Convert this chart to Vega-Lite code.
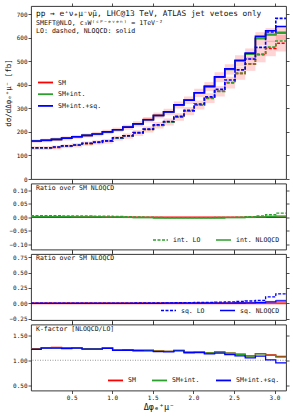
{
"$schema": "https://vega.github.io/schema/vega-lite/v6.json",
"padding": {"left": 3, "top": 2, "right": 1, "bottom": 2},
"bounds": "flush",
"spacing": 4.5,
"config": {
  "font": "DejaVu Sans Mono",
  "view": {"stroke": "#222", "strokeWidth": 0.9},
  "axis": {"grid": false, "domain": false, "tickColor": "#222", "tickSize": 3, "tickWidth": 0.8, "labelFont": "DejaVu Sans Mono", "labelFontSize": 6, "labelColor": "#111", "labelPadding": 1, "titleFont": "DejaVu Sans Mono", "titleFontWeight": "normal", "titleColor": "#111"},
  "legend": {"labelFont": "DejaVu Sans Mono", "labelFontSize": 6.5, "labelColor": "#111", "symbolType": "M-3,0H3", "symbolSize": 25, "symbolStrokeWidth": 1.8, "padding": 0},
  "title": {"font": "DejaVu Sans Mono", "fontWeight": "normal", "color": "#111", "anchor": "start", "frame": "group", "subtitleFont": "DejaVu Sans Mono", "subtitleColor": "#111"}
},
"datasets": {
  "main": [
    {"s":"SM","b":0,"x0":0,"x1":0.1257,"lo":131,"nlo":161,"k":1.229},
    {"s":"SM","b":1,"x0":0.1257,"x1":0.2513,"lo":131,"nlo":164,"k":1.252},
    {"s":"SM","b":2,"x0":0.2513,"x1":0.377,"lo":134,"nlo":168,"k":1.254},
    {"s":"SM","b":3,"x0":0.377,"x1":0.5027,"lo":139,"nlo":173,"k":1.245},
    {"s":"SM","b":4,"x0":0.5027,"x1":0.6283,"lo":143,"nlo":179,"k":1.252},
    {"s":"SM","b":5,"x0":0.6283,"x1":0.754,"lo":150,"nlo":185,"k":1.233},
    {"s":"SM","b":6,"x0":0.754,"x1":0.8796,"lo":155,"nlo":191,"k":1.232},
    {"s":"SM","b":7,"x0":0.8796,"x1":1.0053,"lo":160,"nlo":200,"k":1.25},
    {"s":"SM","b":8,"x0":1.0053,"x1":1.131,"lo":173,"nlo":209,"k":1.208},
    {"s":"SM","b":9,"x0":1.131,"x1":1.2566,"lo":182,"nlo":220,"k":1.209},
    {"s":"SM","b":10,"x0":1.2566,"x1":1.3823,"lo":195,"nlo":234,"k":1.2},
    {"s":"SM","b":11,"x0":1.3823,"x1":1.508,"lo":210,"nlo":252,"k":1.2},
    {"s":"SM","b":12,"x0":1.508,"x1":1.6336,"lo":228,"nlo":270,"k":1.184},
    {"s":"SM","b":13,"x0":1.6336,"x1":1.7593,"lo":242,"nlo":285,"k":1.178},
    {"s":"SM","b":14,"x0":1.7593,"x1":1.885,"lo":263,"nlo":315,"k":1.198},
    {"s":"SM","b":15,"x0":1.885,"x1":2.0106,"lo":288,"nlo":335,"k":1.163},
    {"s":"SM","b":16,"x0":2.0106,"x1":2.1363,"lo":314,"nlo":366,"k":1.166},
    {"s":"SM","b":17,"x0":2.1363,"x1":2.2619,"lo":343,"nlo":393,"k":1.146},
    {"s":"SM","b":18,"x0":2.2619,"x1":2.3876,"lo":372,"nlo":433,"k":1.164},
    {"s":"SM","b":19,"x0":2.3876,"x1":2.5133,"lo":409,"nlo":466,"k":1.139},
    {"s":"SM","b":20,"x0":2.5133,"x1":2.6389,"lo":448,"nlo":502,"k":1.121},
    {"s":"SM","b":21,"x0":2.6389,"x1":2.7646,"lo":488,"nlo":530,"k":1.086},
    {"s":"SM","b":22,"x0":2.7646,"x1":2.8903,"lo":527,"nlo":596,"k":1.131},
    {"s":"SM","b":23,"x0":2.8903,"x1":3.0159,"lo":554,"nlo":612,"k":1.105},
    {"s":"SM","b":24,"x0":3.0159,"x1":3.1416,"lo":576,"nlo":620,"k":1.076},
    {"s":"SM+int.","b":0,"x0":0,"x1":0.1257,"lo":132.0,"nlo":161.3,"k":1.222},
    {"s":"SM+int.","b":1,"x0":0.1257,"x1":0.2513,"lo":132.0,"nlo":164.3,"k":1.245},
    {"s":"SM+int.","b":2,"x0":0.2513,"x1":0.377,"lo":135.0,"nlo":168.3,"k":1.247},
    {"s":"SM+int.","b":3,"x0":0.377,"x1":0.5027,"lo":139.9,"nlo":173.3,"k":1.239},
    {"s":"SM+int.","b":4,"x0":0.5027,"x1":0.6283,"lo":143.9,"nlo":179.2,"k":1.245},
    {"s":"SM+int.","b":5,"x0":0.6283,"x1":0.754,"lo":150.9,"nlo":185.2,"k":1.227},
    {"s":"SM+int.","b":6,"x0":0.754,"x1":0.8796,"lo":155.8,"nlo":191.2,"k":1.227},
    {"s":"SM+int.","b":7,"x0":0.8796,"x1":1.0053,"lo":160.8,"nlo":200.0,"k":1.244},
    {"s":"SM+int.","b":8,"x0":1.0053,"x1":1.131,"lo":173.6,"nlo":209.0,"k":1.204},
    {"s":"SM+int.","b":9,"x0":1.131,"x1":1.2566,"lo":182.4,"nlo":219.8,"k":1.205},
    {"s":"SM+int.","b":10,"x0":1.2566,"x1":1.3823,"lo":195.2,"nlo":233.5,"k":1.196},
    {"s":"SM+int.","b":11,"x0":1.3823,"x1":1.508,"lo":210.0,"nlo":251.5,"k":1.198},
    {"s":"SM+int.","b":12,"x0":1.508,"x1":1.6336,"lo":227.7,"nlo":269.2,"k":1.182},
    {"s":"SM+int.","b":13,"x0":1.6336,"x1":1.7593,"lo":241.4,"nlo":284.1,"k":1.177},
    {"s":"SM+int.","b":14,"x0":1.7593,"x1":1.885,"lo":262.4,"nlo":314.1,"k":1.197},
    {"s":"SM+int.","b":15,"x0":1.885,"x1":2.0106,"lo":287.3,"nlo":334.0,"k":1.163},
    {"s":"SM+int.","b":16,"x0":2.0106,"x1":2.1363,"lo":313.3,"nlo":364.9,"k":1.165},
    {"s":"SM+int.","b":17,"x0":2.1363,"x1":2.2619,"lo":342.2,"nlo":391.8,"k":1.145},
    {"s":"SM+int.","b":18,"x0":2.2619,"x1":2.3876,"lo":371.6,"nlo":431.7,"k":1.162},
    {"s":"SM+int.","b":19,"x0":2.3876,"x1":2.5133,"lo":408.5,"nlo":465.1,"k":1.139},
    {"s":"SM+int.","b":20,"x0":2.5133,"x1":2.6389,"lo":448.0,"nlo":501.0,"k":1.118},
    {"s":"SM+int.","b":21,"x0":2.6389,"x1":2.7646,"lo":489.1,"nlo":529.5,"k":1.083},
    {"s":"SM+int.","b":22,"x0":2.7646,"x1":2.8903,"lo":530.0,"nlo":596.6,"k":1.126},
    {"s":"SM+int.","b":23,"x0":2.8903,"x1":3.0159,"lo":559.5,"nlo":613.8,"k":1.097},
    {"s":"SM+int.","b":24,"x0":3.0159,"x1":3.1416,"lo":585.3,"nlo":622.5,"k":1.064},
    {"s":"SM+int.+sq.","b":0,"x0":0,"x1":0.1257,"lo":132.5,"nlo":161.3,"k":1.217},
    {"s":"SM+int.+sq.","b":1,"x0":0.1257,"x1":0.2513,"lo":132.5,"nlo":164.3,"k":1.240},
    {"s":"SM+int.+sq.","b":2,"x0":0.2513,"x1":0.377,"lo":135.5,"nlo":168.3,"k":1.242},
    {"s":"SM+int.+sq.","b":3,"x0":0.377,"x1":0.5027,"lo":140.4,"nlo":173.3,"k":1.234},
    {"s":"SM+int.+sq.","b":4,"x0":0.5027,"x1":0.6283,"lo":144.4,"nlo":179.2,"k":1.241},
    {"s":"SM+int.+sq.","b":5,"x0":0.6283,"x1":0.754,"lo":151.7,"nlo":185.2,"k":1.221},
    {"s":"SM+int.+sq.","b":6,"x0":0.754,"x1":0.8796,"lo":156.5,"nlo":191.2,"k":1.222},
    {"s":"SM+int.+sq.","b":7,"x0":0.8796,"x1":1.0053,"lo":161.6,"nlo":200.0,"k":1.238},
    {"s":"SM+int.+sq.","b":8,"x0":1.0053,"x1":1.131,"lo":174.7,"nlo":209.0,"k":1.196},
    {"s":"SM+int.+sq.","b":9,"x0":1.131,"x1":1.2566,"lo":183.5,"nlo":220.0,"k":1.199},
    {"s":"SM+int.+sq.","b":10,"x0":1.2566,"x1":1.3823,"lo":196.6,"nlo":233.8,"k":1.189},
    {"s":"SM+int.+sq.","b":11,"x0":1.3823,"x1":1.508,"lo":211.8,"nlo":251.7,"k":1.188},
    {"s":"SM+int.+sq.","b":12,"x0":1.508,"x1":1.6336,"lo":229.9,"nlo":269.5,"k":1.172},
    {"s":"SM+int.+sq.","b":13,"x0":1.6336,"x1":1.7593,"lo":244.0,"nlo":284.7,"k":1.167},
    {"s":"SM+int.+sq.","b":14,"x0":1.7593,"x1":1.885,"lo":265.5,"nlo":314.7,"k":1.185},
    {"s":"SM+int.+sq.","b":15,"x0":1.885,"x1":2.0106,"lo":291.3,"nlo":334.7,"k":1.149},
    {"s":"SM+int.+sq.","b":16,"x0":2.0106,"x1":2.1363,"lo":318.4,"nlo":366.0,"k":1.150},
    {"s":"SM+int.+sq.","b":17,"x0":2.1363,"x1":2.2619,"lo":348.5,"nlo":393.0,"k":1.128},
    {"s":"SM+int.+sq.","b":18,"x0":2.2619,"x1":2.3876,"lo":380.3,"nlo":433.4,"k":1.140},
    {"s":"SM+int.+sq.","b":19,"x0":2.3876,"x1":2.5133,"lo":420.2,"nlo":467.4,"k":1.112},
    {"s":"SM+int.+sq.","b":20,"x0":2.5133,"x1":2.6389,"lo":463.1,"nlo":504.0,"k":1.088},
    {"s":"SM+int.+sq.","b":21,"x0":2.6389,"x1":2.7646,"lo":509.2,"nlo":534.2,"k":1.049},
    {"s":"SM+int.+sq.","b":22,"x0":2.7646,"x1":2.8903,"lo":558.6,"nlo":605.0,"k":1.083},
    {"s":"SM+int.+sq.","b":23,"x0":2.8903,"x1":3.0159,"lo":623.8,"nlo":629.1,"k":1.008},
    {"s":"SM+int.+sq.","b":24,"x0":3.0159,"x1":3.1416,"lo":681.4,"nlo":647.3,"k":0.950}
  ],
  "band": [
    {"b":0,"x0":0,"x1":0.1257,"nLo":153,"nHi":168,"lLo":123,"lHi":139},
    {"b":1,"x0":0.1257,"x1":0.2513,"nLo":156,"nHi":171,"lLo":123,"lHi":139},
    {"b":2,"x0":0.2513,"x1":0.377,"nLo":160,"nHi":176,"lLo":126,"lHi":142},
    {"b":3,"x0":0.377,"x1":0.5027,"nLo":164,"nHi":181,"lLo":131,"lHi":147},
    {"b":4,"x0":0.5027,"x1":0.6283,"nLo":170,"nHi":187,"lLo":134,"lHi":152},
    {"b":5,"x0":0.6283,"x1":0.754,"nLo":176,"nHi":193,"lLo":141,"lHi":159},
    {"b":6,"x0":0.754,"x1":0.8796,"nLo":181,"nHi":200,"lLo":146,"lHi":164},
    {"b":7,"x0":0.8796,"x1":1.0053,"nLo":190,"nHi":209,"lLo":150,"lHi":170},
    {"b":8,"x0":1.0053,"x1":1.131,"nLo":199,"nHi":218,"lLo":163,"lHi":183},
    {"b":9,"x0":1.131,"x1":1.2566,"nLo":209,"nHi":230,"lLo":171,"lHi":193},
    {"b":10,"x0":1.2566,"x1":1.3823,"nLo":222,"nHi":245,"lLo":183,"lHi":207},
    {"b":11,"x0":1.3823,"x1":1.508,"nLo":239,"nHi":263,"lLo":197,"lHi":223},
    {"b":12,"x0":1.508,"x1":1.6336,"nLo":257,"nHi":282,"lLo":214,"lHi":242},
    {"b":13,"x0":1.6336,"x1":1.7593,"nLo":271,"nHi":298,"lLo":227,"lHi":257},
    {"b":14,"x0":1.7593,"x1":1.885,"nLo":299,"nHi":329,"lLo":247,"lHi":279},
    {"b":15,"x0":1.885,"x1":2.0106,"nLo":318,"nHi":350,"lLo":271,"lHi":305},
    {"b":16,"x0":2.0106,"x1":2.1363,"nLo":348,"nHi":383,"lLo":295,"lHi":333},
    {"b":17,"x0":2.1363,"x1":2.2619,"nLo":373,"nHi":411,"lLo":322,"lHi":364},
    {"b":18,"x0":2.2619,"x1":2.3876,"nLo":411,"nHi":453,"lLo":350,"lHi":394},
    {"b":19,"x0":2.3876,"x1":2.5133,"nLo":443,"nHi":487,"lLo":384,"lHi":434},
    {"b":20,"x0":2.5133,"x1":2.6389,"nLo":477,"nHi":525,"lLo":421,"lHi":475},
    {"b":21,"x0":2.6389,"x1":2.7646,"nLo":504,"nHi":554,"lLo":459,"lHi":517},
    {"b":22,"x0":2.7646,"x1":2.8903,"nLo":566,"nHi":623,"lLo":495,"lHi":559},
    {"b":23,"x0":2.8903,"x1":3.0159,"nLo":581,"nHi":640,"lLo":521,"lHi":587},
    {"b":24,"x0":3.0159,"x1":3.1416,"nLo":589,"nHi":648,"lLo":541,"lHi":611}
  ],
  "ratio": [
    {"q":"int. LO","b":0,"x0":0,"x1":0.1257,"v":0.006},
    {"q":"int. LO","b":1,"x0":0.1257,"x1":0.2513,"v":0.006},
    {"q":"int. LO","b":2,"x0":0.2513,"x1":0.377,"v":0.006},
    {"q":"int. LO","b":3,"x0":0.377,"x1":0.5027,"v":0.005},
    {"q":"int. LO","b":4,"x0":0.5027,"x1":0.6283,"v":0.005},
    {"q":"int. LO","b":5,"x0":0.6283,"x1":0.754,"v":0.005},
    {"q":"int. LO","b":6,"x0":0.754,"x1":0.8796,"v":0.004},
    {"q":"int. LO","b":7,"x0":0.8796,"x1":1.0053,"v":0.004},
    {"q":"int. LO","b":8,"x0":1.0053,"x1":1.131,"v":0.003},
    {"q":"int. LO","b":9,"x0":1.131,"x1":1.2566,"v":0.002},
    {"q":"int. LO","b":10,"x0":1.2566,"x1":1.3823,"v":0.001},
    {"q":"int. LO","b":11,"x0":1.3823,"x1":1.508,"v":0.000},
    {"q":"int. LO","b":12,"x0":1.508,"x1":1.6336,"v":-0.001},
    {"q":"int. LO","b":13,"x0":1.6336,"x1":1.7593,"v":-0.002},
    {"q":"int. LO","b":14,"x0":1.7593,"x1":1.885,"v":-0.002},
    {"q":"int. LO","b":15,"x0":1.885,"x1":2.0106,"v":-0.002},
    {"q":"int. LO","b":16,"x0":2.0106,"x1":2.1363,"v":-0.002},
    {"q":"int. LO","b":17,"x0":2.1363,"x1":2.2619,"v":-0.002},
    {"q":"int. LO","b":18,"x0":2.2619,"x1":2.3876,"v":-0.001},
    {"q":"int. LO","b":19,"x0":2.3876,"x1":2.5133,"v":-0.001},
    {"q":"int. LO","b":20,"x0":2.5133,"x1":2.6389,"v":0.000},
    {"q":"int. LO","b":21,"x0":2.6389,"x1":2.7646,"v":0.002},
    {"q":"int. LO","b":22,"x0":2.7646,"x1":2.8903,"v":0.005},
    {"q":"int. LO","b":23,"x0":2.8903,"x1":3.0159,"v":0.009},
    {"q":"int. LO","b":24,"x0":3.0159,"x1":3.1416,"v":0.015},
    {"q":"int. NLOQCD","b":0,"x0":0,"x1":0.1257,"v":0.002},
    {"q":"int. NLOQCD","b":1,"x0":0.1257,"x1":0.2513,"v":0.002},
    {"q":"int. NLOQCD","b":2,"x0":0.2513,"x1":0.377,"v":0.002},
    {"q":"int. NLOQCD","b":3,"x0":0.377,"x1":0.5027,"v":0.002},
    {"q":"int. NLOQCD","b":4,"x0":0.5027,"x1":0.6283,"v":0.001},
    {"q":"int. NLOQCD","b":5,"x0":0.6283,"x1":0.754,"v":0.001},
    {"q":"int. NLOQCD","b":6,"x0":0.754,"x1":0.8796,"v":0.001},
    {"q":"int. NLOQCD","b":7,"x0":0.8796,"x1":1.0053,"v":0.000},
    {"q":"int. NLOQCD","b":8,"x0":1.0053,"x1":1.131,"v":0.000},
    {"q":"int. NLOQCD","b":9,"x0":1.131,"x1":1.2566,"v":-0.001},
    {"q":"int. NLOQCD","b":10,"x0":1.2566,"x1":1.3823,"v":-0.002},
    {"q":"int. NLOQCD","b":11,"x0":1.3823,"x1":1.508,"v":-0.002},
    {"q":"int. NLOQCD","b":12,"x0":1.508,"x1":1.6336,"v":-0.003},
    {"q":"int. NLOQCD","b":13,"x0":1.6336,"x1":1.7593,"v":-0.003},
    {"q":"int. NLOQCD","b":14,"x0":1.7593,"x1":1.885,"v":-0.003},
    {"q":"int. NLOQCD","b":15,"x0":1.885,"x1":2.0106,"v":-0.003},
    {"q":"int. NLOQCD","b":16,"x0":2.0106,"x1":2.1363,"v":-0.003},
    {"q":"int. NLOQCD","b":17,"x0":2.1363,"x1":2.2619,"v":-0.003},
    {"q":"int. NLOQCD","b":18,"x0":2.2619,"x1":2.3876,"v":-0.003},
    {"q":"int. NLOQCD","b":19,"x0":2.3876,"x1":2.5133,"v":-0.002},
    {"q":"int. NLOQCD","b":20,"x0":2.5133,"x1":2.6389,"v":-0.002},
    {"q":"int. NLOQCD","b":21,"x0":2.6389,"x1":2.7646,"v":-0.001},
    {"q":"int. NLOQCD","b":22,"x0":2.7646,"x1":2.8903,"v":0.001},
    {"q":"int. NLOQCD","b":23,"x0":2.8903,"x1":3.0159,"v":0.003},
    {"q":"int. NLOQCD","b":24,"x0":3.0159,"x1":3.1416,"v":0.004},
    {"q":"sq. LO","b":0,"x0":0,"x1":0.1257,"v":0.003},
    {"q":"sq. LO","b":1,"x0":0.1257,"x1":0.2513,"v":0.003},
    {"q":"sq. LO","b":2,"x0":0.2513,"x1":0.377,"v":0.003},
    {"q":"sq. LO","b":3,"x0":0.377,"x1":0.5027,"v":0.003},
    {"q":"sq. LO","b":4,"x0":0.5027,"x1":0.6283,"v":0.003},
    {"q":"sq. LO","b":5,"x0":0.6283,"x1":0.754,"v":0.004},
    {"q":"sq. LO","b":6,"x0":0.754,"x1":0.8796,"v":0.004},
    {"q":"sq. LO","b":7,"x0":0.8796,"x1":1.0053,"v":0.004},
    {"q":"sq. LO","b":8,"x0":1.0053,"x1":1.131,"v":0.005},
    {"q":"sq. LO","b":9,"x0":1.131,"x1":1.2566,"v":0.005},
    {"q":"sq. LO","b":10,"x0":1.2566,"x1":1.3823,"v":0.006},
    {"q":"sq. LO","b":11,"x0":1.3823,"x1":1.508,"v":0.007},
    {"q":"sq. LO","b":12,"x0":1.508,"x1":1.6336,"v":0.008},
    {"q":"sq. LO","b":13,"x0":1.6336,"x1":1.7593,"v":0.009},
    {"q":"sq. LO","b":14,"x0":1.7593,"x1":1.885,"v":0.010},
    {"q":"sq. LO","b":15,"x0":1.885,"x1":2.0106,"v":0.012},
    {"q":"sq. LO","b":16,"x0":2.0106,"x1":2.1363,"v":0.014},
    {"q":"sq. LO","b":17,"x0":2.1363,"x1":2.2619,"v":0.016},
    {"q":"sq. LO","b":18,"x0":2.2619,"x1":2.3876,"v":0.020},
    {"q":"sq. LO","b":19,"x0":2.3876,"x1":2.5133,"v":0.025},
    {"q":"sq. LO","b":20,"x0":2.5133,"x1":2.6389,"v":0.030},
    {"q":"sq. LO","b":21,"x0":2.6389,"x1":2.7646,"v":0.038},
    {"q":"sq. LO","b":22,"x0":2.7646,"x1":2.8903,"v":0.048},
    {"q":"sq. LO","b":23,"x0":2.8903,"x1":3.0159,"v":0.105},
    {"q":"sq. LO","b":24,"x0":3.0159,"x1":3.1416,"v":0.155},
    {"q":"sq. NLOQCD","b":0,"x0":0,"x1":0.1257,"v":0.000},
    {"q":"sq. NLOQCD","b":1,"x0":0.1257,"x1":0.2513,"v":0.000},
    {"q":"sq. NLOQCD","b":2,"x0":0.2513,"x1":0.377,"v":0.000},
    {"q":"sq. NLOQCD","b":3,"x0":0.377,"x1":0.5027,"v":0.000},
    {"q":"sq. NLOQCD","b":4,"x0":0.5027,"x1":0.6283,"v":0.000},
    {"q":"sq. NLOQCD","b":5,"x0":0.6283,"x1":0.754,"v":0.000},
    {"q":"sq. NLOQCD","b":6,"x0":0.754,"x1":0.8796,"v":0.000},
    {"q":"sq. NLOQCD","b":7,"x0":0.8796,"x1":1.0053,"v":0.000},
    {"q":"sq. NLOQCD","b":8,"x0":1.0053,"x1":1.131,"v":0.000},
    {"q":"sq. NLOQCD","b":9,"x0":1.131,"x1":1.2566,"v":0.001},
    {"q":"sq. NLOQCD","b":10,"x0":1.2566,"x1":1.3823,"v":0.001},
    {"q":"sq. NLOQCD","b":11,"x0":1.3823,"x1":1.508,"v":0.001},
    {"q":"sq. NLOQCD","b":12,"x0":1.508,"x1":1.6336,"v":0.001},
    {"q":"sq. NLOQCD","b":13,"x0":1.6336,"x1":1.7593,"v":0.002},
    {"q":"sq. NLOQCD","b":14,"x0":1.7593,"x1":1.885,"v":0.002},
    {"q":"sq. NLOQCD","b":15,"x0":1.885,"x1":2.0106,"v":0.002},
    {"q":"sq. NLOQCD","b":16,"x0":2.0106,"x1":2.1363,"v":0.003},
    {"q":"sq. NLOQCD","b":17,"x0":2.1363,"x1":2.2619,"v":0.003},
    {"q":"sq. NLOQCD","b":18,"x0":2.2619,"x1":2.3876,"v":0.004},
    {"q":"sq. NLOQCD","b":19,"x0":2.3876,"x1":2.5133,"v":0.005},
    {"q":"sq. NLOQCD","b":20,"x0":2.5133,"x1":2.6389,"v":0.006},
    {"q":"sq. NLOQCD","b":21,"x0":2.6389,"x1":2.7646,"v":0.009},
    {"q":"sq. NLOQCD","b":22,"x0":2.7646,"x1":2.8903,"v":0.014},
    {"q":"sq. NLOQCD","b":23,"x0":2.8903,"x1":3.0159,"v":0.025},
    {"q":"sq. NLOQCD","b":24,"x0":3.0159,"x1":3.1416,"v":0.040}
  ],
  "rband": [
    {"b":0,"x0":0,"x1":0.1257,"iLo":-0.001,"iHi":0.005,"sLo":0,"sHi":0},
    {"b":1,"x0":0.1257,"x1":0.2513,"iLo":-0.001,"iHi":0.005,"sLo":0,"sHi":0},
    {"b":2,"x0":0.2513,"x1":0.377,"iLo":-0.001,"iHi":0.005,"sLo":0,"sHi":0},
    {"b":3,"x0":0.377,"x1":0.5027,"iLo":-0.001,"iHi":0.005,"sLo":0,"sHi":0},
    {"b":4,"x0":0.5027,"x1":0.6283,"iLo":-0.002,"iHi":0.004,"sLo":0,"sHi":0},
    {"b":5,"x0":0.6283,"x1":0.754,"iLo":-0.002,"iHi":0.004,"sLo":0,"sHi":0},
    {"b":6,"x0":0.754,"x1":0.8796,"iLo":-0.002,"iHi":0.004,"sLo":0,"sHi":0},
    {"b":7,"x0":0.8796,"x1":1.0053,"iLo":-0.003,"iHi":0.003,"sLo":0,"sHi":0},
    {"b":8,"x0":1.0053,"x1":1.131,"iLo":-0.003,"iHi":0.003,"sLo":0,"sHi":0},
    {"b":9,"x0":1.131,"x1":1.2566,"iLo":-0.004,"iHi":0.002,"sLo":0.0006,"sHi":0.0017},
    {"b":10,"x0":1.2566,"x1":1.3823,"iLo":-0.005,"iHi":0.001,"sLo":0.0006,"sHi":0.0017},
    {"b":11,"x0":1.3823,"x1":1.508,"iLo":-0.005,"iHi":0.001,"sLo":0.0006,"sHi":0.0017},
    {"b":12,"x0":1.508,"x1":1.6336,"iLo":-0.006,"iHi":0.000,"sLo":0.0006,"sHi":0.0017},
    {"b":13,"x0":1.6336,"x1":1.7593,"iLo":-0.006,"iHi":0.000,"sLo":0.0012,"sHi":0.0034},
    {"b":14,"x0":1.7593,"x1":1.885,"iLo":-0.006,"iHi":0.000,"sLo":0.0012,"sHi":0.0034},
    {"b":15,"x0":1.885,"x1":2.0106,"iLo":-0.006,"iHi":0.000,"sLo":0.0012,"sHi":0.0034},
    {"b":16,"x0":2.0106,"x1":2.1363,"iLo":-0.006,"iHi":0.000,"sLo":0.0018,"sHi":0.0051},
    {"b":17,"x0":2.1363,"x1":2.2619,"iLo":-0.006,"iHi":0.000,"sLo":0.0018,"sHi":0.0051},
    {"b":18,"x0":2.2619,"x1":2.3876,"iLo":-0.006,"iHi":0.000,"sLo":0.0024,"sHi":0.0068},
    {"b":19,"x0":2.3876,"x1":2.5133,"iLo":-0.005,"iHi":0.001,"sLo":0.0030,"sHi":0.0085},
    {"b":20,"x0":2.5133,"x1":2.6389,"iLo":-0.005,"iHi":0.001,"sLo":0.0036,"sHi":0.0102},
    {"b":21,"x0":2.6389,"x1":2.7646,"iLo":-0.004,"iHi":0.002,"sLo":0.0054,"sHi":0.0153},
    {"b":22,"x0":2.7646,"x1":2.8903,"iLo":-0.002,"iHi":0.004,"sLo":0.0084,"sHi":0.0238},
    {"b":23,"x0":2.8903,"x1":3.0159,"iLo":0.000,"iHi":0.006,"sLo":0.0150,"sHi":0.0425},
    {"b":24,"x0":3.0159,"x1":3.1416,"iLo":0.001,"iHi":0.007,"sLo":0.0240,"sHi":0.0680}
  ]
},
"resolve": {"scale": {"color": "independent", "strokeDash": "independent"}},
"vconcat": [
  {
    "width": 255, "height": 173,
    "title": {"text": "pp → e⁺νₑμ⁻ν̄μ, LHC@13 TeV, ATLAS jet vetoes only", "subtitle": ["SMEFT@NLO, c₃W⁽ᶜᴾ⁻ᵉᵛᵉⁿ⁾ = 1TeV⁻²", "LO: dashed, NLOQCD: solid"], "fontSize": 7.8, "subtitleFontSize": 6.6, "subtitlePadding": 2, "subtitleLineHeight": 8.3, "offset": -32.5, "dx": 5},
    "resolve": {"axis": {"x": "independent", "y": "independent"}},
    "layer": [
      {"data": {"name": "band"}, "mark": {"type": "rect", "color": "#ff0000", "opacity": 0.17},
       "encoding": {
         "x": {"field": "x0", "type": "quantitative", "scale": {"domain": [0, 3.1416], "nice": false, "zero": false}, "axis": {"values": [0.5, 1, 1.5, 2, 2.5, 3], "labels": false, "title": null}},
         "x2": {"field": "x1"},
         "y": {"field": "nLo", "type": "quantitative", "scale": {"domain": [0, 734], "nice": false}, "axis": {"values": [0, 100, 200, 300, 400, 500, 600, 700], "format": "d", "title": "dσ/dΔφₑ⁺μ⁻ [fb]", "titleFontSize": 7.5, "titlePadding": 4}},
         "y2": {"field": "nHi"}}},
      {"data": {"name": "band"}, "mark": {"type": "rect", "color": "#ff0000", "opacity": 0.17},
       "encoding": {
         "x": {"field": "x0", "type": "quantitative", "axis": null},
         "x2": {"field": "x1"},
         "y": {"field": "lLo", "type": "quantitative", "axis": null},
         "y2": {"field": "lHi"}}},
      {"data": {"name": "main"}, "transform": [{"fold": ["x0", "x1"], "as": ["edge", "xp"]}],
       "mark": {"type": "line", "strokeWidth": 1.6},
       "encoding": {
         "x": {"field": "xp", "type": "quantitative", "axis": null},
         "y": {"field": "nlo", "type": "quantitative", "axis": null},
         "color": {"field": "s", "type": "nominal", "scale": {"domain": ["SM", "SM+int.", "SM+int.+sq."], "range": ["#ff0000", "#2ca02c", "#0000ff"]},
                   "legend": {"title": null, "orient": "none", "legendX": 11, "legendY": 73, "direction": "vertical", "labelOffset": 9, "rowPadding": 2.7}},
         "order": [{"field": "b", "type": "quantitative"}, {"field": "edge", "type": "nominal"}]}},
      {"data": {"name": "main"}, "transform": [{"fold": ["x0", "x1"], "as": ["edge", "xp"]}],
       "mark": {"type": "line", "strokeWidth": 1.6, "strokeDash": [3, 1.5]},
       "encoding": {
         "x": {"field": "xp", "type": "quantitative", "axis": null},
         "y": {"field": "lo", "type": "quantitative", "axis": null},
         "color": {"field": "s", "type": "nominal", "scale": {"domain": ["SM", "SM+int.", "SM+int.+sq."], "range": ["#ff0000", "#2ca02c", "#0000ff"]},
                   "legend": {"title": null, "orient": "none", "legendX": 11, "legendY": 73, "direction": "vertical", "labelOffset": 9, "rowPadding": 2.7}},
         "order": [{"field": "b", "type": "quantitative"}, {"field": "edge", "type": "nominal"}]}},
      {"data": {"name": "band"}, "mark": {"type": "point", "opacity": 0},
       "encoding": {
         "x": {"field": "x0", "type": "quantitative", "axis": {"orient": "top", "values": [0.5, 1, 1.5, 2, 2.5, 3], "labels": false, "title": null}},
         "y": {"field": "nLo", "type": "quantitative", "axis": {"orient": "right", "values": [0, 100, 200, 300, 400, 500, 600, 700], "labels": false, "title": null}}}}
    ]
  },
  {
    "width": 255, "height": 66,
    "title": {"text": "Ratio over SM NLOQCD", "fontSize": 6.5, "offset": -11, "dx": 5},
    "resolve": {"axis": {"x": "independent", "y": "independent"}},
    "layer": [
      {"data": {"name": "rband"}, "mark": {"type": "rect", "color": "#2ca02c", "opacity": 0.3},
       "encoding": {
         "x": {"field": "x0", "type": "quantitative", "scale": {"domain": [0, 3.1416], "nice": false, "zero": false}, "axis": {"values": [0.5, 1, 1.5, 2, 2.5, 3], "labels": false, "title": null}},
         "x2": {"field": "x1"},
         "y": {"field": "iLo", "type": "quantitative", "scale": {"domain": [-0.12, 0.125], "nice": false, "zero": false}, "axis": {"values": [-0.1, -0.05, 0, 0.05, 0.1], "format": ".2f", "title": null}},
         "y2": {"field": "iHi"}}},
      {"data": {"values": [{}]}, "mark": {"type": "rule", "color": "#ff0000", "strokeWidth": 1.5},
       "encoding": {"y": {"datum": 0, "type": "quantitative", "axis": null}}},
      {"data": {"name": "ratio"}, "transform": [{"filter": {"field": "q", "oneOf": ["int. LO", "int. NLOQCD"]}}, {"fold": ["x0", "x1"], "as": ["edge", "xp"]}],
       "mark": {"type": "line", "strokeWidth": 1.3, "color": "#2ca02c"},
       "encoding": {
         "x": {"field": "xp", "type": "quantitative", "axis": null},
         "y": {"field": "v", "type": "quantitative", "axis": null},
         "strokeDash": {"field": "q", "type": "nominal", "scale": {"domain": ["int. LO", "int. NLOQCD"], "range": [[3, 1.5], [1, 0]]},
                        "legend": {"title": null, "orient": "bottom-right", "direction": "horizontal", "offset": 6, "labelOffset": 9, "columnPadding": 12, "symbolStrokeColor": "#2ca02c", "symbolStrokeWidth": 1.5}},
         "order": [{"field": "b", "type": "quantitative"}, {"field": "edge", "type": "nominal"}]}},
      {"data": {"name": "rband"}, "mark": {"type": "point", "opacity": 0},
       "encoding": {
         "x": {"field": "x0", "type": "quantitative", "axis": {"orient": "top", "values": [0.5, 1, 1.5, 2, 2.5, 3], "labels": false, "title": null}},
         "y": {"field": "iLo", "type": "quantitative", "axis": {"orient": "right", "values": [-0.1, -0.05, 0, 0.05, 0.1], "labels": false, "title": null}}}}
    ]
  },
  {
    "width": 255, "height": 66,
    "title": {"text": "Ratio over SM NLOQCD", "fontSize": 6.5, "offset": -11, "dx": 5},
    "resolve": {"axis": {"x": "independent", "y": "independent"}},
    "layer": [
      {"data": {"name": "rband"}, "mark": {"type": "rect", "color": "#0000ff", "opacity": 0.15},
       "encoding": {
         "x": {"field": "x0", "type": "quantitative", "scale": {"domain": [0, 3.1416], "nice": false, "zero": false}, "axis": {"values": [0.5, 1, 1.5, 2, 2.5, 3], "labels": false, "title": null}},
         "x2": {"field": "x1"},
         "y": {"field": "sLo", "type": "quantitative", "scale": {"domain": [-0.27, 0.8], "nice": false, "zero": false}, "axis": {"values": [-0.25, 0, 0.25, 0.5, 0.75], "format": ".2f", "title": null}},
         "y2": {"field": "sHi"}}},
      {"data": {"values": [{}]}, "mark": {"type": "rule", "color": "#ff0000", "strokeWidth": 2, "opacity": 0.8},
       "encoding": {"y": {"datum": 0, "type": "quantitative", "axis": null}}},
      {"data": {"name": "ratio"}, "transform": [{"filter": {"field": "q", "oneOf": ["sq. LO", "sq. NLOQCD"]}}, {"fold": ["x0", "x1"], "as": ["edge", "xp"]}],
       "mark": {"type": "line", "strokeWidth": 1.3, "color": "#0000ff"},
       "encoding": {
         "x": {"field": "xp", "type": "quantitative", "axis": null},
         "y": {"field": "v", "type": "quantitative", "axis": null},
         "strokeDash": {"field": "q", "type": "nominal", "scale": {"domain": ["sq. LO", "sq. NLOQCD"], "range": [[3, 1.5], [1, 0]]},
                        "legend": {"title": null, "orient": "bottom-right", "direction": "horizontal", "offset": 6, "labelOffset": 9, "columnPadding": 12, "symbolStrokeColor": "#0000ff", "symbolStrokeWidth": 1.5}},
         "order": [{"field": "b", "type": "quantitative"}, {"field": "edge", "type": "nominal"}]}},
      {"data": {"name": "rband"}, "mark": {"type": "point", "opacity": 0},
       "encoding": {
         "x": {"field": "x0", "type": "quantitative", "axis": {"orient": "top", "values": [0.5, 1, 1.5, 2, 2.5, 3], "labels": false, "title": null}},
         "y": {"field": "sLo", "type": "quantitative", "axis": {"orient": "right", "values": [-0.25, 0, 0.25, 0.5, 0.75], "labels": false, "title": null}}}}
    ]
  },
  {
    "width": 255, "height": 66,
    "title": {"text": "K-factor [NLOQCD/LO]", "fontSize": 6.5, "offset": -11, "dx": 5},
    "resolve": {"axis": {"x": "independent", "y": "independent"}},
    "layer": [
      {"data": {"values": [{}]}, "mark": {"type": "rule", "color": "#999999", "strokeWidth": 1, "strokeDash": [1, 1.5]},
       "encoding": {"y": {"datum": 1, "type": "quantitative", "scale": {"domain": [0.4, 1.71], "nice": false, "zero": false}, "axis": {"values": [0.5, 1, 1.5], "format": ".2f", "title": null}}}},
      {"data": {"name": "main"}, "transform": [{"fold": ["x0", "x1"], "as": ["edge", "xp"]}],
       "mark": {"type": "line", "strokeWidth": 1.3},
       "encoding": {
         "x": {"field": "xp", "type": "quantitative", "scale": {"domain": [0, 3.1416], "nice": false, "zero": false}, "axis": {"values": [0.5, 1, 1.5, 2, 2.5, 3], "format": ".1f", "title": "Δφₑ⁺μ⁻", "titleFontSize": 8.5, "titlePadding": 2}},
         "y": {"field": "k", "type": "quantitative", "axis": null},
         "color": {"field": "s", "type": "nominal", "scale": {"domain": ["SM", "SM+int.", "SM+int.+sq."], "range": ["#ff0000", "#2ca02c", "#0000ff"]},
                   "legend": {"title": null, "orient": "bottom-right", "direction": "horizontal", "offset": 6, "labelOffset": 9, "columnPadding": 12}},
         "order": [{"field": "b", "type": "quantitative"}, {"field": "edge", "type": "nominal"}]}},
      {"data": {"name": "main"}, "mark": {"type": "point", "opacity": 0},
       "encoding": {
         "x": {"field": "x0", "type": "quantitative", "axis": {"orient": "top", "values": [0.5, 1, 1.5, 2, 2.5, 3], "labels": false, "title": null}},
         "y": {"field": "k", "type": "quantitative", "axis": {"orient": "right", "values": [0.5, 1, 1.5], "labels": false, "title": null}}}}
    ]
  }
]
}
